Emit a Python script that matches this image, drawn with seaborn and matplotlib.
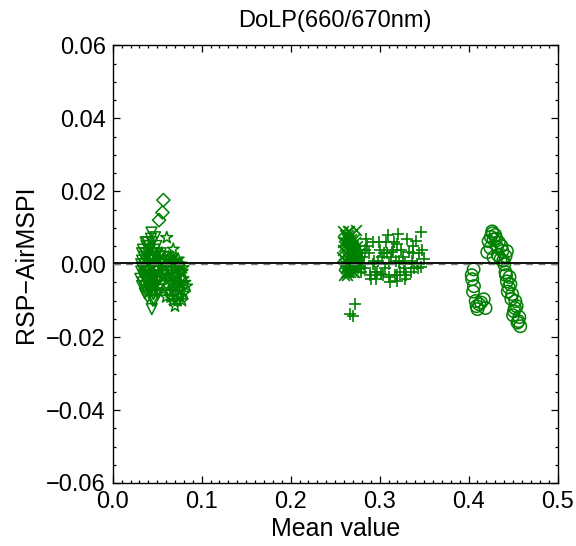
import numpy as np
import pandas as pd
import matplotlib.pyplot as plt
import seaborn as sns
from matplotlib.ticker import MultipleLocator, FormatStrFormatter, FuncFormatter

# RSP - AirMSPI differences of DoLP at 660/670nm

# group near 0.05: down triangles, stars, diamonds
tri_x = [0.0436, 0.0476, 0.0457, 0.0439, 0.042, 0.033, 0.035, 0.037, 0.039, 0.041, 0.043,
         0.045, 0.047, 0.049, 0.051, 0.034, 0.036, 0.038, 0.040, 0.044, 0.046, 0.048, 0.050,
         0.052, 0.054, 0.032, 0.037, 0.042, 0.047, 0.053, 0.056, 0.039, 0.045, 0.033, 0.041,
         0.049, 0.055, 0.036, 0.044, 0.051,
         0.031, 0.034, 0.038, 0.042, 0.046, 0.050, 0.054, 0.032, 0.036, 0.040, 0.044, 0.048,
         0.052, 0.035, 0.039, 0.043, 0.047, 0.051, 0.033, 0.037, 0.041, 0.045, 0.049, 0.053,
         0.034, 0.038, 0.042, 0.046, 0.050, 0.036, 0.040, 0.044, 0.048, 0.043, 0.047, 0.039,
         0.035, 0.040, 0.045, 0.050, 0.038, 0.043, 0.048, 0.033, 0.046, 0.041]
tri_y = [0.0087, 0.0074, -0.0082, -0.0123, -0.0068, 0.001, -0.002, 0.003, -0.004, 0.000, 0.002,
         -0.003, 0.004, -0.001, 0.001, -0.005, -0.006, 0.005, -0.003, -0.005, 0.000, -0.002, -0.004,
         0.002, -0.001, -0.002, 0.006, 0.004, 0.003, -0.006, -0.003, -0.009, -0.010, 0.003, -0.007,
         0.005, 0.001, 0.000, 0.006, -0.007,
         -0.004, -0.001, 0.002, -0.006, 0.001, -0.005, 0.003, 0.000, -0.004, 0.003, -0.001, -0.006,
         0.000, 0.002, -0.005, -0.003, 0.001, -0.008, -0.006, -0.007, 0.005, 0.002, -0.003, -0.004,
         0.004, -0.002, 0.001, -0.008, 0.003, -0.008, -0.006, -0.004, 0.002, 0.007, -0.010, 0.006,
         -0.003, -0.002, -0.006, -0.002, -0.001, -0.004, -0.005, -0.001, -0.007, 0.001]
star_x = [0.0607, 0.068, 0.0735, 0.0645, 0.070, 0.0757, 0.066, 0.072, 0.055, 0.058, 0.062, 0.064,
          0.067, 0.069, 0.071, 0.074, 0.076, 0.078, 0.060, 0.063, 0.057, 0.073, 0.077, 0.079,
          0.059, 0.061, 0.063, 0.065, 0.067, 0.069, 0.071, 0.073, 0.075, 0.077, 0.079, 0.081,
          0.062, 0.066, 0.070, 0.074, 0.078, 0.064, 0.068, 0.072, 0.076, 0.080, 0.083]
star_y = [0.0073, 0.0041, 0.0014, -0.0077, -0.0115, -0.0088, -0.005, -0.0014, 0.003, -0.002, 0.001,
          -0.004, 0.002, -0.006, -0.003, -0.007, -0.005, -0.002, -0.009, 0.000, -0.007, -0.010, 0.000,
          -0.004,
          -0.001, -0.006, 0.002, -0.009, -0.003, 0.001, -0.008, -0.003, -0.009, -0.007, -0.001,
          -0.005, -0.003, 0.001, -0.005, 0.000, -0.010, -0.001, -0.010, -0.006, -0.002, -0.008,
          -0.006]
dia_x = [0.0569, 0.0559, 0.0521]
dia_y = [0.0176, 0.0142, 0.0121]

# group near 0.27-0.35: crosses and plus signs
xm_x = [0.259, 0.261, 0.263, 0.265, 0.267, 0.269, 0.271, 0.273, 0.275, 0.260, 0.262, 0.264, 0.266,
        0.268, 0.270, 0.272, 0.274, 0.276, 0.259, 0.263, 0.267, 0.271, 0.261, 0.265, 0.269, 0.273,
        0.260, 0.264, 0.268, 0.272, 0.276, 0.262, 0.266, 0.270, 0.274,
        0.258, 0.260, 0.262, 0.264, 0.266, 0.268, 0.270, 0.272, 0.274, 0.276, 0.259, 0.261,
        0.263, 0.265, 0.267, 0.269, 0.271, 0.273, 0.275, 0.277]
xm_y = [0.009, 0.008, 0.007, 0.006, 0.005, 0.004, 0.003, 0.002, 0.001, 0.000, -0.001, -0.002, 0.009,
        0.007, 0.005, 0.003, 0.001, -0.001, 0.004, 0.002, 0.000, -0.002, 0.006, 0.004, 0.002, 0.000,
        -0.003, 0.008, 0.006, 0.004, 0.002, 0.003, 0.001, -0.001, 0.0095,
        0.002, 0.005, -0.002, 0.007, 0.000, 0.008, -0.002, 0.006, 0.004, 0.000, 0.006, 0.001,
        -0.003, 0.009, -0.002, 0.001, 0.007, -0.001, 0.005, 0.003]
plus_x = [0.321, 0.346, 0.307, 0.341, 0.286, 0.320, 0.350, 0.346, 0.290, 0.320, 0.310, 0.301, 0.333,
          0.314, 0.2725, 0.267, 0.2705, 0.280, 0.283, 0.288, 0.292, 0.295, 0.298, 0.303, 0.306,
          0.311, 0.315, 0.318, 0.323, 0.326, 0.329, 0.336, 0.339, 0.344, 0.282, 0.294, 0.305,
          0.317, 0.327, 0.297, 0.313, 0.322, 0.335, 0.338, 0.278,
          0.279, 0.284, 0.289, 0.293, 0.296, 0.300, 0.304, 0.308, 0.312, 0.316, 0.319, 0.324,
          0.328, 0.331, 0.337, 0.342, 0.348, 0.285, 0.299, 0.309, 0.330, 0.343]
plus_y = [0.0082, 0.0088, 0.0060, 0.0063, 0.0050, 0.0055, 0.0014, -0.0008, -0.0040, -0.0047, -0.0036,
          -0.0027, 0.0033, 0.0033, -0.011, -0.0137, -0.0142, 0.002, -0.001, 0.003, 0.000, -0.002,
          0.001, 0.002, -0.001, 0.000, 0.004, 0.001, -0.002, 0.002, 0.000, 0.001, -0.001, 0.003,
          0.000, 0.001, 0.003, -0.003, -0.001, -0.002, 0.002, 0.001, -0.002, 0.005, 0.002,
          -0.002, 0.004, -0.003, 0.006, -0.004, 0.004, -0.003, 0.003, -0.005, 0.006, -0.003, 0.004,
          -0.004, 0.007, 0.003, 0.000, 0.004, 0.007, 0.006, 0.008, -0.003, -0.001]

# group near 0.43: circles
circ_x = [0.4265, 0.428, 0.4225, 0.432, 0.438, 0.4415, 0.421, 0.428, 0.436, 0.443, 0.4056, 0.404,
          0.406, 0.408, 0.410, 0.417, 0.4415, 0.443, 0.445, 0.449, 0.4525, 0.451, 0.456, 0.458,
          0.430, 0.434, 0.425, 0.4245, 0.440, 0.446, 0.447, 0.454, 0.450, 0.457, 0.4035, 0.412,
          0.427, 0.431, 0.433, 0.437, 0.439, 0.442, 0.444, 0.448, 0.452, 0.455, 0.405, 0.409,
          0.414, 0.419]
circ_y = [0.0090, 0.0068, 0.0063, 0.0047, 0.0036, 0.0022, 0.0033, 0.0019, 0.0014, 0.0036, -0.0014,
          -0.0041, -0.006, -0.0101, -0.0123, -0.0096, -0.0022, -0.0047, -0.0063, -0.0082, -0.0101,
          -0.0129, -0.0156, -0.017, 0.0080, 0.0060, 0.0075, 0.0045, 0.0000, -0.0035, -0.0055,
          -0.0115, -0.0140, -0.0145, -0.0030, -0.0110,
          0.0085, 0.0070, 0.0025, 0.0050, 0.0010, -0.0030, -0.0075, -0.0095, -0.0120, -0.0160,
          -0.0075, -0.0115, -0.0105, -0.0120]

groups = [(tri_x, tri_y, 'v', 60, True),
          (star_x, star_y, '*', 80, True),
          (dia_x, dia_y, 'D', 45, True),
          (xm_x, xm_y, 'x', 60, False),
          (plus_x, plus_y, '+', 85, False),
          (circ_x, circ_y, 'o', 80, True)]

sns.set_style('ticks')
plt.rcParams['font.family'] = ['Liberation Sans', 'DejaVu Sans']
plt.rcParams['axes.unicode_minus'] = True
plt.rcParams['text.color'] = 'black'
plt.rcParams['axes.labelcolor'] = 'black'

fig = plt.figure(figsize=(5.76, 5.46), dpi=100)
ax = fig.add_axes([0.1957, 0.1154, 0.7723, 0.8013])

green = '#008000'
for gx, gy, mk, s, hollow in groups:
    if hollow:
        sns.scatterplot(x=gx, y=gy, marker=mk, s=s, facecolors='none', edgecolor=green,
                        linewidth=1.1, ax=ax)
    else:
        sns.scatterplot(x=gx, y=gy, marker=mk, s=s, color=green, linewidth=1.2, ax=ax)

ax.axhline(0, color='gray', lw=1, ls=(0, (5, 4)), zorder=3)
ax.axhline(0.0003, color='black', lw=1.3, zorder=4)

ax.set_xlim(0, 0.5)
ax.set_ylim(-0.06, 0.06)
ax.xaxis.set_major_locator(MultipleLocator(0.1))
ax.xaxis.set_minor_locator(MultipleLocator(0.01))
ax.yaxis.set_major_locator(MultipleLocator(0.02))
ax.yaxis.set_minor_locator(MultipleLocator(0.005))
ax.xaxis.set_major_formatter(FormatStrFormatter('%.1f'))
# wide minus sign like the original
ax.yaxis.set_major_formatter(FuncFormatter(lambda v, p: f'{v:.2f}'.replace('-', '\u2212')
                                           if abs(v) > 1e-9 else '0.00'))
ax.tick_params(which='both', direction='in', top=True, right=True, width=0.9,
               labelsize=17, colors='black')
ax.tick_params(axis='x', pad=6)
ax.tick_params(axis='y', pad=5)
ax.tick_params(which='major', length=5)
ax.tick_params(which='minor', length=2.5)
for sp in ax.spines.values():
    sp.set_visible(True)
    sp.set_linewidth(1)
    sp.set_color('black')

ax.set_xlabel('Mean value', fontsize=18, labelpad=3, color='black')
ax.set_ylabel('RSP\u2212AirMSPI', fontsize=18, labelpad=6, color='black')
ax.set_title('DoLP(660/670nm)', fontsize=17, pad=13, color='black')

fig.savefig('out.png', dpi=100)
